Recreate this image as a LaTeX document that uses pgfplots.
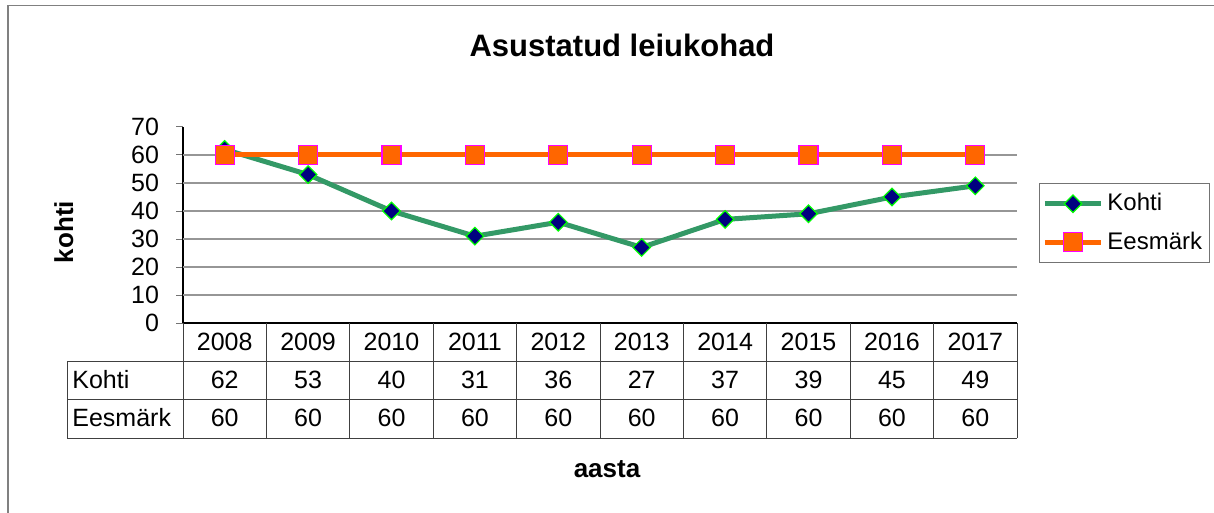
\documentclass[border=0pt]{standalone}
\usepackage{pgfplots}
\usepackage{pgfplotstable}
\pgfplotsset{compat=1.18}
\usepackage{fontspec}
\setmainfont{Liberation Sans}
\definecolor{kgreen}{RGB}{51,153,102}
\definecolor{knavy}{RGB}{0,0,128}
\definecolor{klime}{RGB}{0,255,0}
\definecolor{korange}{RGB}{255,102,0}
\definecolor{kmag}{RGB}{255,0,255}
\definecolor{gridgray}{RGB}{150,150,150}

\pgfplotstableread{
idx year kohti eesmark
0 2008 62 60
1 2009 53 60
2 2010 40 60
3 2011 31 60
4 2012 36 60
5 2013 27 60
6 2014 37 60
7 2015 39 60
8 2016 45 60
9 2017 49 60
}\datatable

\begin{document}
\begin{tikzpicture}
\begin{axis}[
  at={(91.5pt,-161.5pt)}, anchor=south west,
  scale only axis, width=417pt, height=98pt,
  xmin=-0.5, xmax=9.5, ymin=0, ymax=70,
  clip=false,
  axis lines=left,
  axis line style={-, black, line width=0.6pt},
  xtick=\empty,
  ytick={0,10,...,70},
  extra y ticks={10,20,...,60},
  extra y tick labels={},
  extra y tick style={grid=major, major tick length=0pt},
  grid style={gridgray, line width=0.6pt},
  tick align=outside,
  major tick length=3.5pt,
  tick style={black!55, line width=0.5pt},
  /pgf/number format/assume math mode=true,
  yticklabel style={font=\fontsize{12.5}{15}\selectfont, xshift=-5pt},
  legend style={at={(1.0263,0.714)}, anchor=north west, draw=black!55,
    line width=0.5pt, font=\fontsize{12}{14}\selectfont,
    row sep=5pt, inner xsep=1.5pt, inner ysep=3pt},
  legend cell align=left,
  legend image code/.code={
    \draw[mark repeat=2, mark phase=2] plot coordinates {(0pt,0pt) (14pt,0pt) (28pt,0pt)};
  },
]
\addplot[kgreen, line width=2.5pt, mark=square*, mark size=3.1pt,
  mark options={rotate=45, fill=knavy, draw=klime, line width=0.6pt}]
  table[x=idx, y=kohti]{\datatable};
\addlegendentry{Kohti}
\addplot[korange, line width=2.5pt, mark=square*, mark size=4.75pt,
  mark options={fill=korange, draw=kmag, line width=0.6pt}]
  table[x=idx, y=eesmark]{\datatable};
\addlegendentry{Eesmärk}
\end{axis}
\begin{scope}[x=0.5pt, y=-0.5pt]
  \draw[gray, line width=0.75pt] (8,513) -- (8,5.5) -- (1214,5.5);
  \node[font=\bfseries\fontsize{15.5}{18}\selectfont] at (622,45) {Asustatud leiukohad};
  \node[font=\bfseries\fontsize{13}{15}\selectfont, anchor=base] at (607,477) {aasta};
  \node[font=\bfseries\fontsize{13}{15}\selectfont, anchor=base, rotate=90] at (73,232) {kohti};
  \draw[black!75, line width=0.5pt]
    (67,361) -- (1017,361) (67,399.5) -- (1017,399.5) (67,438) -- (1017,438)
    (67,361) -- (67,438);
  \foreach \k in {0,...,10} {
    \draw[black!75, line width=0.5pt] ({183+83.4*\k},323) -- ({183+83.4*\k},438);
  }
  \node[font=\fontsize{12.5}{15}\selectfont, anchor=base west, inner sep=0pt] at (72,388) {Kohti};
  \node[font=\fontsize{12.5}{15}\selectfont, anchor=base west, inner sep=0pt] at (72,426) {Eesmärk};
  \foreach \i in {0,...,9} {
    \pgfplotstablegetelem{\i}{year}\of\datatable
    \node[font=\fontsize{12.5}{15}\selectfont, anchor=base, inner sep=0pt] at ({183+83.4*(\i+0.5)},350) {\pgfplotsretval};
    \pgfplotstablegetelem{\i}{kohti}\of\datatable
    \node[font=\fontsize{12.5}{15}\selectfont, anchor=base, inner sep=0pt] at ({183+83.4*(\i+0.5)},388) {\pgfplotsretval};
    \pgfplotstablegetelem{\i}{eesmark}\of\datatable
    \node[font=\fontsize{12.5}{15}\selectfont, anchor=base, inner sep=0pt] at ({183+83.4*(\i+0.5)},426) {\pgfplotsretval};
  }
  \pgfresetboundingbox
  \path[use as bounding box] (0,0) rectangle (1214,513);
\end{scope}
\end{tikzpicture}
\end{document}
